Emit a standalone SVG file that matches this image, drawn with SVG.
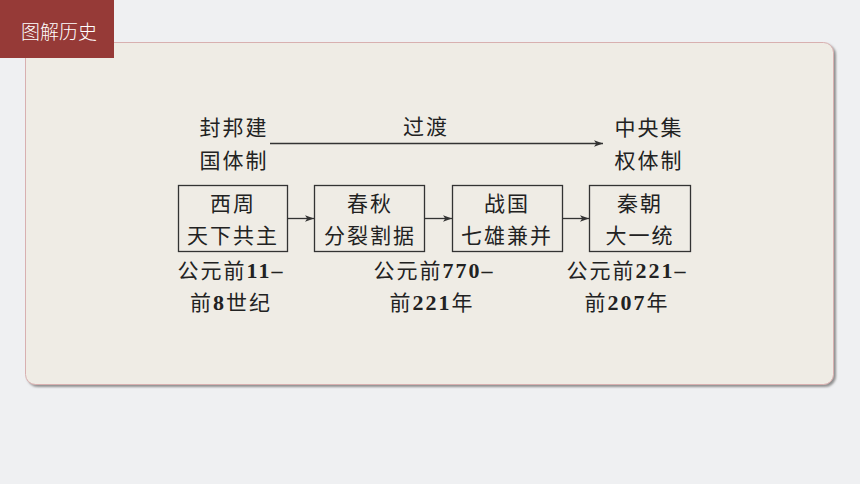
<svg xmlns="http://www.w3.org/2000/svg" width="860" height="484" viewBox="0 0 860 484">
<defs>
<style>
.t{font-family:"Liberation Serif","Noto Sans CJK SC",serif;font-size:21px;fill:#222;text-anchor:middle;letter-spacing:2px}
.d{font-weight:bold;font-size:22px}
.box{fill:none;stroke:#333;stroke-width:1.3}
.ln{stroke:#333;stroke-width:1.3;fill:none}
</style>
<marker id="ah" viewBox="0 0 10 10" refX="10" refY="5" markerWidth="9" markerHeight="9" markerUnits="userSpaceOnUse" orient="auto">
<path d="M0,1.5 L10,5 L0,8.5 L2.5,5 Z" fill="#333"/>
</marker>
<filter id="sh" x="-5%" y="-5%" width="110%" height="115%">
<feDropShadow dx="2" dy="2" stdDeviation="1.2" flood-color="#777" flood-opacity="0.8"/>
</filter>
</defs>
<rect width="860" height="484" fill="#eff0f2"/>
<rect x="25.5" y="42.5" width="808" height="342" rx="10" fill="#efece5" stroke="#d8b0b0" stroke-width="1" filter="url(#sh)"/>
<g id="tab">
<rect x="0" y="0" width="114" height="58" fill="#963a37"/>
<text x="59" y="39" font-family="Noto Sans CJK SC,sans-serif" font-size="19" fill="#fff" text-anchor="middle" font-weight="300">图解历史</text>
</g>
<g id="feudal">
<text class="t" x="234" y="135">封邦建</text>
<text class="t" x="234" y="168">国体制</text>
</g>
<g id="central">
<text class="t" x="649" y="135">中央集</text>
<text class="t" x="649" y="168">权体制</text>
</g>
<g id="n1">
<rect class="box" x="178.5" y="185.5" width="109" height="66"/>
<text class="t" x="233" y="211">西周</text>
<text class="t" x="233" y="243">天下共主</text>
<text class="t" x="231" y="278">公元前<tspan class="d">11–</tspan></text>
<text class="t" x="231" y="310">前<tspan class="d">8</tspan>世纪</text>
</g>
<g id="n2">
<rect class="box" x="314.5" y="185.5" width="110" height="66"/>
<text class="t" x="370" y="211">春秋</text>
<text class="t" x="370" y="243">分裂割据</text>
<text class="t" x="434" y="278">公元前<tspan class="d">770–</tspan></text>
<text class="t" x="432" y="310">前<tspan class="d">221</tspan>年</text>
</g>
<g id="n3">
<rect class="box" x="452.5" y="185.5" width="110" height="66"/>
<text class="t" x="507" y="211">战国</text>
<text class="t" x="507" y="243">七雄兼并</text>
</g>
<g id="n4">
<rect class="box" x="589.5" y="185.5" width="101" height="66"/>
<text class="t" x="640" y="211">秦朝</text>
<text class="t" x="640" y="243">大一统</text>
<text class="t" x="627" y="278">公元前<tspan class="d">221–</tspan></text>
<text class="t" x="627" y="310">前<tspan class="d">207</tspan>年</text>
</g>
<g id="connectors">
<line class="ln" x1="270" y1="143.5" x2="603" y2="143.5" marker-end="url(#ah)"/>
<text class="t" x="426" y="134">过渡</text>
<line class="ln" x1="287.5" y1="218.5" x2="314" y2="218.5" marker-end="url(#ah)"/>
<line class="ln" x1="424.5" y1="218.5" x2="452" y2="218.5" marker-end="url(#ah)"/>
<line class="ln" x1="562.5" y1="218.5" x2="589" y2="218.5" marker-end="url(#ah)"/>
</g>
</svg>
